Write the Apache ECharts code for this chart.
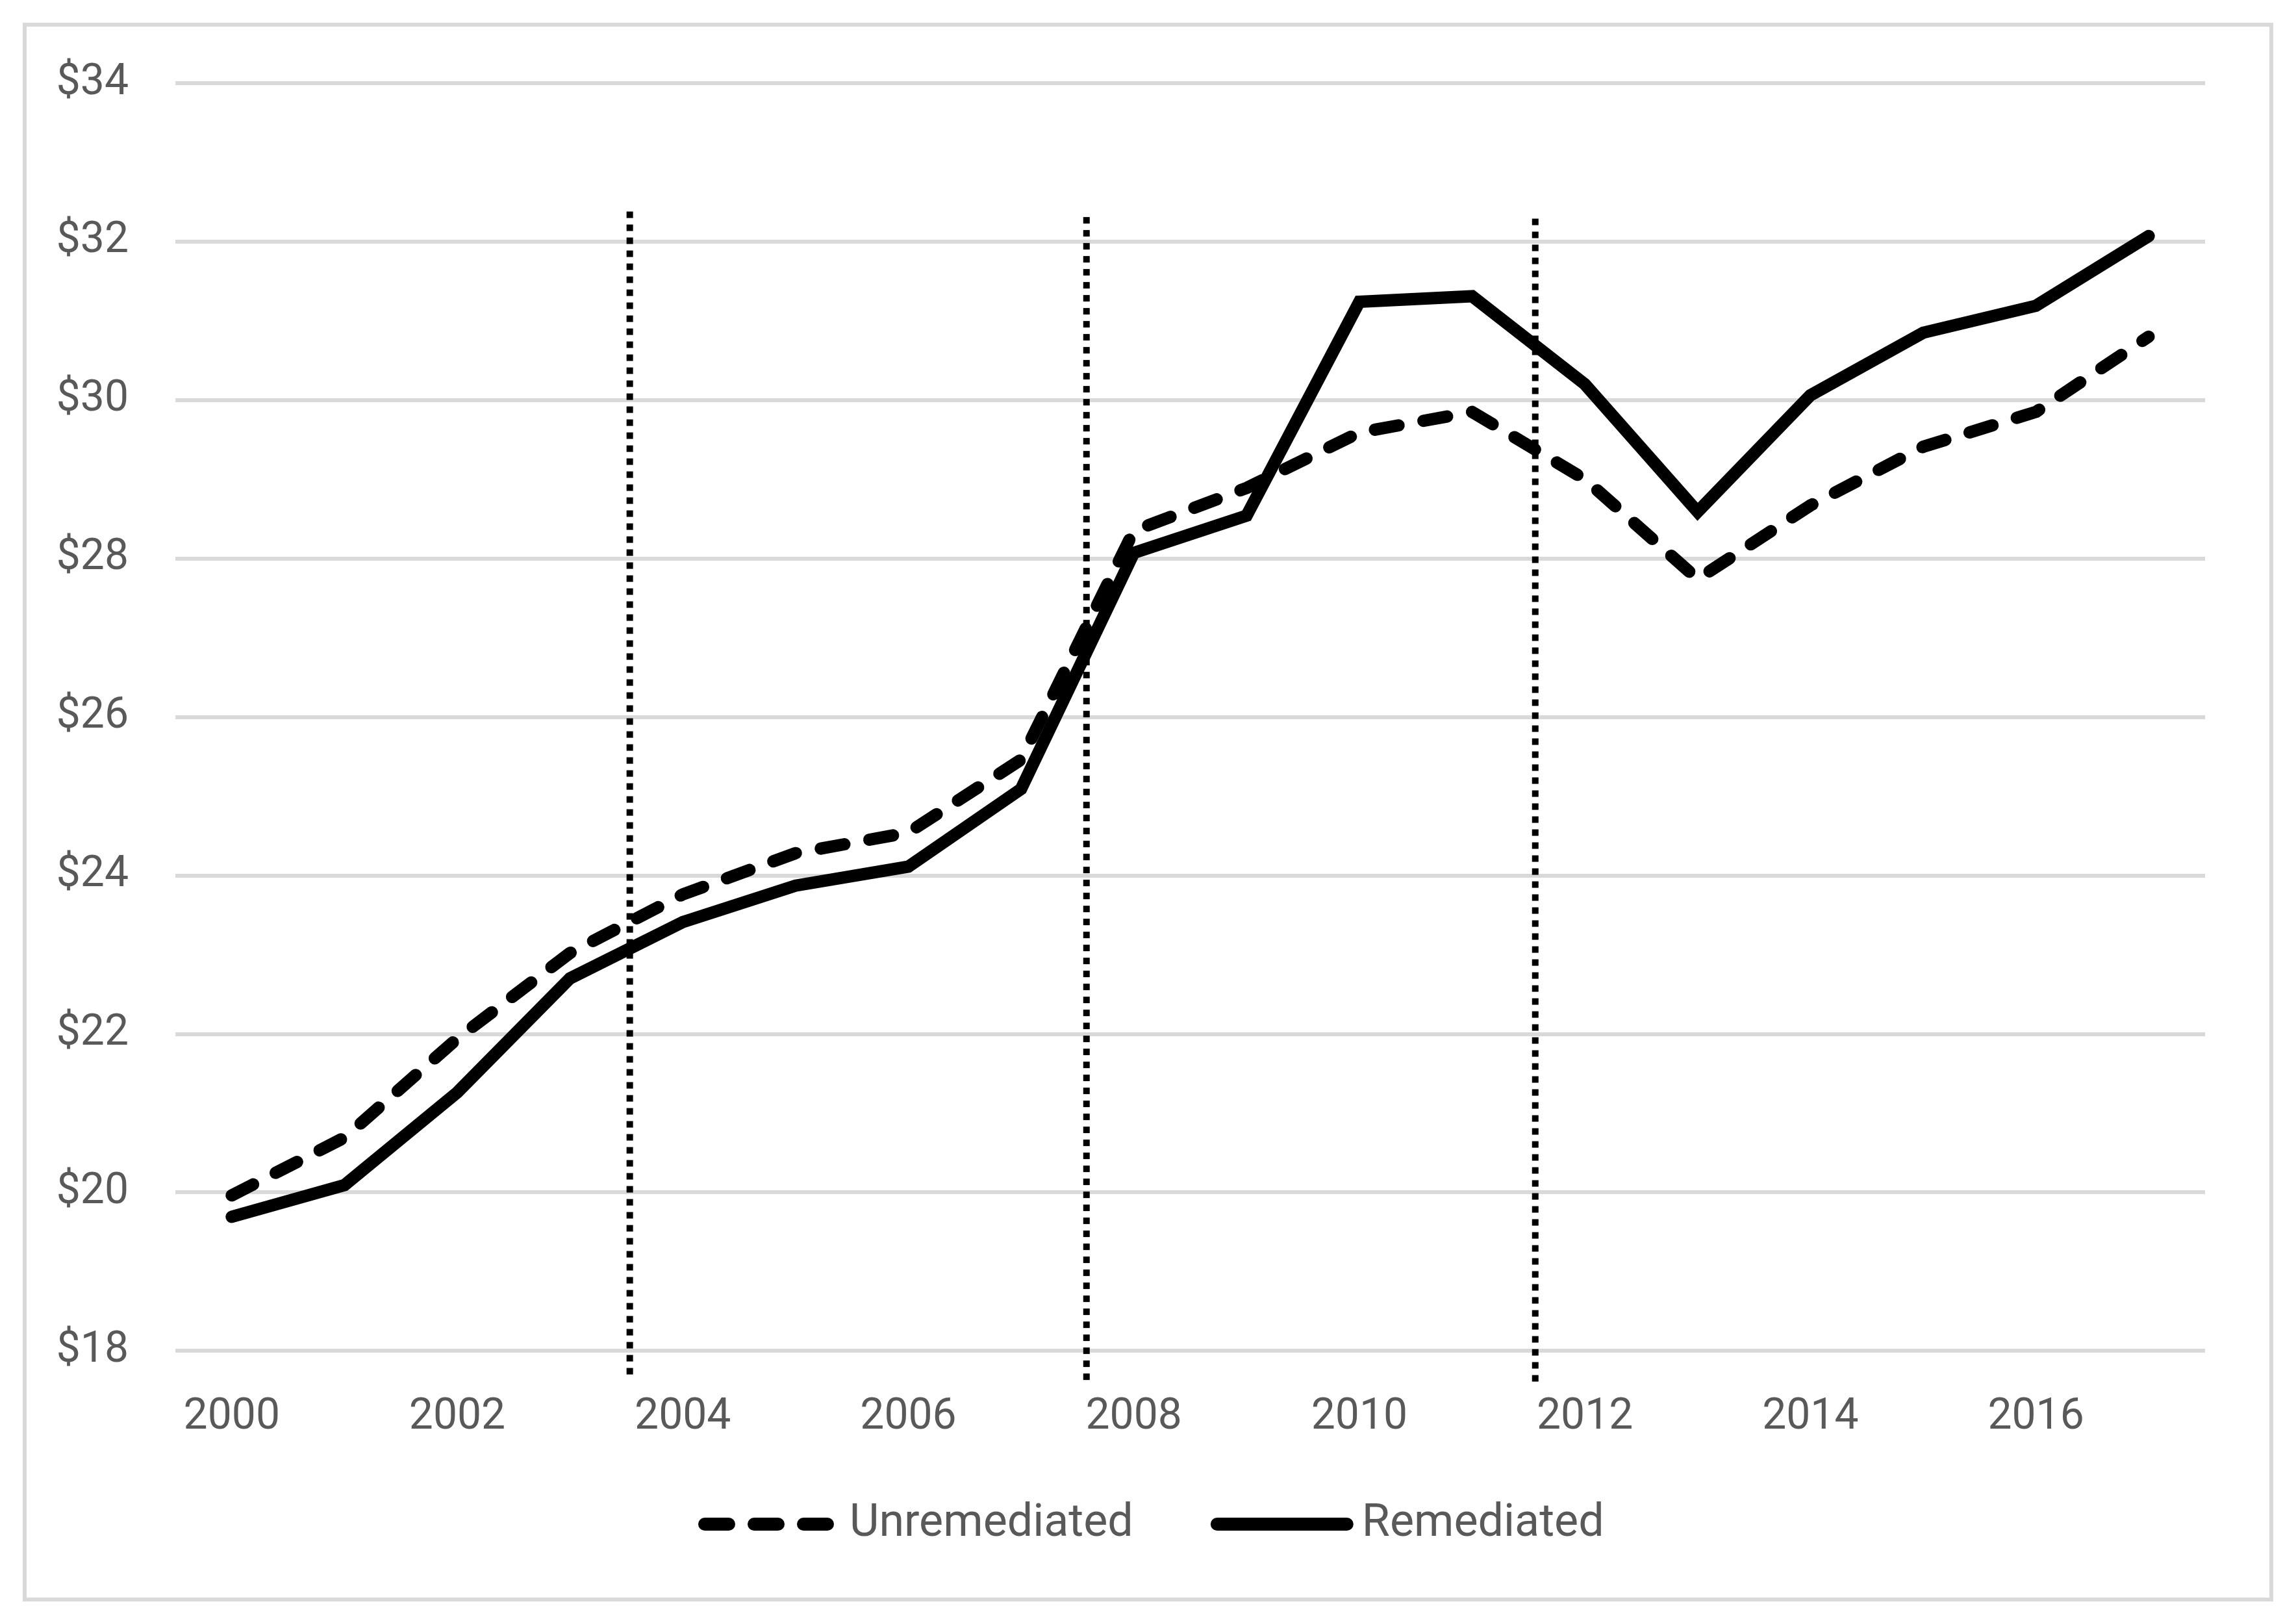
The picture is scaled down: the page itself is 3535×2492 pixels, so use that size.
<!DOCTYPE html>
<html><head><meta charset="utf-8">
<script src="https://cdn.jsdelivr.net/npm/echarts@6/dist/echarts.min.js"></script>
<style>html,body{margin:0;padding:0;background:#fff}#c{width:3535px;height:2492px}</style>
</head><body><div id="c"></div>
<script>
const years = ['2000','2001','2002','2003','2004','2005','2006','2007','2008','2009','2010','2011','2012','2013','2014','2015','2016','2017'];
const unremediated = [19.96,20.69,21.94,23.02,23.76,24.28,24.54,25.46,28.35,28.89,29.59,29.85,29.00,27.74,28.67,29.41,29.85,30.80];
const remediated   = [19.69,20.09,21.26,22.70,23.41,23.87,24.11,25.09,28.07,28.54,31.24,31.31,30.20,28.59,30.06,30.85,31.19,32.07];
const yMin = 18, yMax = 34, yStep = 2;
const markerYears = [2003.53, 2007.58, 2011.56];
const markerTops = [32.41, 32.35, 32.33];
const markerBottoms = [17.70, 17.63, 17.61];

const chart = echarts.init(document.getElementById('c'), null, {renderer:'canvas'});
const FONT = 'Roboto';
const markerSeries = markerYears.map((x, i) => ({
  name: 'marker' + i,
  type: 'line',
  xAxisIndex: 1,
  data: [[x, markerBottoms[i]], [x, markerTops[i]]],
  symbol: 'none',
  clip: false,
  silent: true,
  z: 1,
  lineStyle: {color: '#000', width: 10, type: [10, 10], cap: 'butt'}
}));
chart.setOption({
  animation: false,
  backgroundColor: '#fff',
  graphic: [{
    type: 'rect',
    shape: {x: 38, y: 38, width: 3459, height: 2424},
    style: {fill: 'none', stroke: '#d9d9d9', lineWidth: 6}
  }],
  grid: {left: 270, right: 140, top: 128, bottom: 413, containLabel: false},
  legend: {
    data: ['Unremediated', 'Remediated'],
    left: 1070, top: 2306,
    itemWidth: 200, itemHeight: 44, itemGap: 119,
    itemStyle: {opacity: 0},
    lineStyle: {width: 20},
    textStyle: {fontFamily: FONT, fontSize: 70, color: '#595959', padding: [0, 0, 0, 18]}
  },
  xAxis: [{
    type: 'category',
    data: years,
    boundaryGap: true,
    axisLine: {show: false},
    axisTick: {show: false},
    splitLine: {show: false},
    axisLabel: {interval: 1, fontFamily: FONT, fontSize: 66, color: '#595959', margin: 70}
  }, {
    type: 'value', min: 1999.5, max: 2017.5, show: false
  }],
  yAxis: {
    type: 'value', min: yMin, max: yMax, interval: yStep,
    axisLine: {show: false}, axisTick: {show: false},
    splitLine: {lineStyle: {color: '#d9d9d9', width: 6}},
    axisLabel: {fontFamily: FONT, fontSize: 66, color: '#595959', margin: 72, formatter: v => '$' + v}
  },
  series: [{
    name: 'Unremediated', type: 'line', data: unremediated, symbol: 'none', z: 3,
    lineStyle: {color: '#000', width: 19, type: [37, 39], cap: 'round', join: 'round'},
    itemStyle: {color: '#000'}
  }, {
    name: 'Remediated', type: 'line', data: remediated, symbol: 'none', z: 4,
    lineStyle: {color: '#000', width: 19, type: 'solid', cap: 'round', join: 'miter'},
    itemStyle: {color: '#000'}
  }, ...markerSeries]
});
</script></body></html>
